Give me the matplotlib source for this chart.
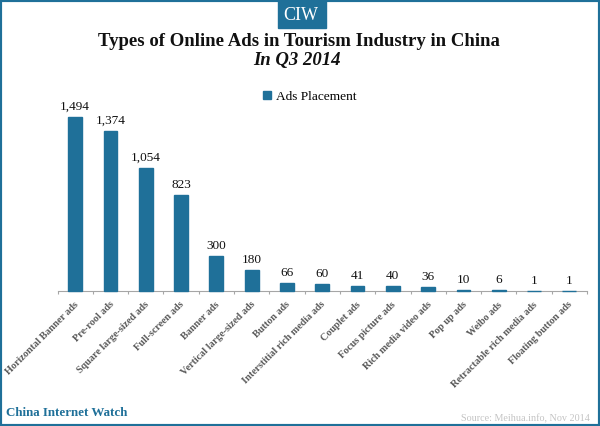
import matplotlib.pyplot as plt
from matplotlib.patches import Rectangle

plt.rcParams['font.family'] = ['Liberation Serif', 'DejaVu Serif']

categories = ['Horizontal Banner ads', 'Pre-rool ads', 'Square large-sized ads', 'Full-screen ads',
              'Banner ads', 'Vertical large-sized ads', 'Button ads', 'Interstitial rich media ads',
              'Couplet ads', 'Focus picture ads', 'Rich media video ads', 'Pop up ads', 'Weibo ads',
              'Retractable rich media ads', 'Floating button ads']
values = [1494, 1374, 1054, 823, 300, 180, 66, 60, 41, 40, 36, 10, 6, 1, 1]

TEAL = '#1f7099'
W, H = 600, 426


def main():
    fig = plt.figure(figsize=(W / 100, H / 100), dpi=100)
    ax = fig.add_axes([57.5 / W, (H - 291) / H, (587 - 57.5) / W, 174 / H])

    xs = list(range(len(values)))
    # thick unclipped edge keeps the very small bars visible on the axis line
    bars = ax.bar(xs, values, width=0.39, color=TEAL, edgecolor=TEAL, linewidth=1.0, zorder=3,
                  clip_on=False, label='Ads Placement')
    for x, v in zip(xs, values):
        ax.annotate(f'{v:,}', (x, v), xytext=(0, 3), textcoords='offset points',
                    ha='center', va='bottom', fontsize=9.5, color='#111111')

    ax.set_xlim(-0.5, len(values) - 0.5)
    ax.set_ylim(0, 1494)
    for side in ['top', 'left', 'right']:
        ax.spines[side].set_visible(False)
    ax.spines['bottom'].set_color('#a6a6a6')
    ax.set_yticks([])

    # ticks sit between the bars
    ax.set_xticks([x - 0.5 for x in range(len(values) + 1)])
    ax.set_xticklabels([])
    ax.tick_params(axis='x', length=2.2, width=0.8, color='#a6a6a6', direction='out')
    for x, name in zip(xs, categories):
        ax.annotate(name, (x, 0), xytext=(-1, -6.5), textcoords='offset points', rotation=45,
                    ha='right', va='top', rotation_mode='anchor', fontsize=7.3,
                    fontweight='bold', color='#595959')

    fig.legend(handles=[bars], labels=['Ads Placement'], loc='center', bbox_to_anchor=(310 / W, 1 - 97 / H),
               frameon=False, fontsize=9.6, handlelength=0.55, handleheight=0.55, handletextpad=0.4)

    fig.text(299 / W, 1 - 42 / H, 'Types of Online Ads in Tourism Industry in China', ha='center', va='center',
             fontsize=13.5, fontweight='bold', color='#111111')
    fig.text(297 / W, 1 - 61 / H, 'In Q3 2014', ha='center', va='center',
             fontsize=13.5, fontweight='bold', style='italic', color='#111111')

    # frame and logo box
    fig.add_artist(Rectangle((0, 0), 1, 1, transform=fig.transFigure, fill=False, edgecolor=TEAL, linewidth=3))
    fig.add_artist(Rectangle((278 / W, 1 - 28 / H), 48 / W, 28 / H, transform=fig.transFigure, color=TEAL))
    fig.text(301 / W, 1 - 15 / H, 'CIW', ha='center', va='center', fontsize=13, color='white')

    fig.text(6 / W, 1 - 413 / H, 'China Internet Watch', ha='left', va='center', fontsize=9.4,
             fontweight='bold', color=TEAL)
    fig.text(590 / W, 1 - 418.5 / H, 'Source: Meihua.info, Nov 2014', ha='right', va='center', fontsize=7.3,
             color='#c4c4c4')

    fig.savefig('out.png', dpi=100)


if __name__ == "__main__":
    main()
